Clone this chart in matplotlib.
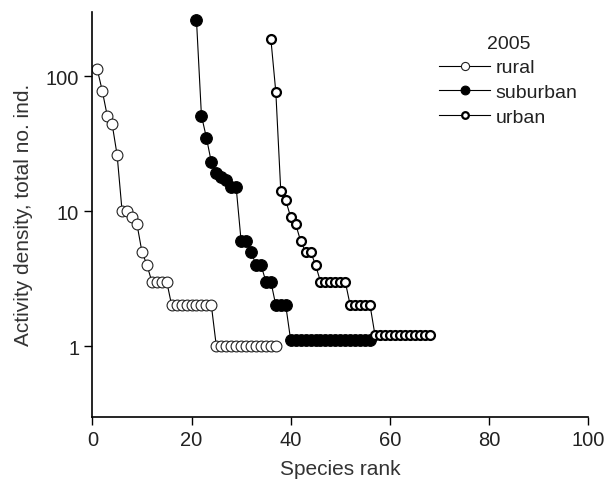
import matplotlib
matplotlib.use("Agg")
import matplotlib.pyplot as plt

plt.rcParams['font.family'] = ['Liberation Sans', 'DejaVu Sans']

# species rank vs activity density, 2005
rural_rank = list(range(1, 38))
rural = [112, 78, 51, 44, 26, 10, 10, 9, 8, 5, 4,
         3, 3, 3, 3,
         2, 2, 2, 2, 2, 2, 2, 2, 2,
         1, 1, 1, 1, 1, 1, 1, 1, 1, 1, 1, 1, 1]

suburban_rank = list(range(21, 57))
suburban = [260, 51, 35, 23, 19, 18, 17, 15, 15,
            6, 6, 5, 4, 4, 3, 3, 2, 2, 2,
            1.1, 1.1, 1.1, 1.1, 1.1, 1.1, 1.1, 1.1, 1.1,
            1.1, 1.1, 1.1, 1.1, 1.1, 1.1, 1.1, 1.1]

urban_rank = list(range(36, 69))
urban = [188, 76, 14, 12, 9, 8, 6, 5, 5, 4,
         3, 3, 3, 3, 3, 3,
         2, 2, 2, 2, 2,
         1.2, 1.2, 1.2, 1.2, 1.2, 1.2, 1.2, 1.2, 1.2, 1.2, 1.2, 1.2]

xticks = [0, 20, 40, 60, 80, 100]
yticks = [1, 10, 100]

fig = plt.figure(figsize=(6.09, 4.89), dpi=100)
ax = fig.add_axes([0.1516, 0.146, 0.8144, 0.828])

ax.plot(rural_rank, rural, '-o', color='black', lw=0.8, ms=7.8,
        mfc='white', mec='#222222', mew=0.8, label='rural')
ax.plot(suburban_rank, suburban, '-o', color='black', lw=0.8, ms=8.4,
        mfc='black', mec='black', mew=0.8, label='suburban')
ax.plot(urban_rank, urban, '-o', color='black', lw=0.8, ms=6.4,
        mfc='white', mec='black', mew=1.6, label='urban')

ax.set_yscale('log')
ax.set_xlim(0, 100)
ax.set_ylim(0.3, 300)
ax.set_xticks(xticks)
ax.set_yticks(yticks)
ax.set_yticklabels([str(v) for v in yticks])
ax.minorticks_off()
ax.tick_params(labelsize=14.5, length=6, width=1, direction='out', labelcolor='#222222')

ax.spines['top'].set_visible(False)
ax.spines['right'].set_visible(False)
ax.spines['left'].set_linewidth(1.2)
ax.spines['bottom'].set_linewidth(1.2)

ax.set_xlabel("Species rank", fontsize=15, color='#333333', labelpad=7)
ax.set_ylabel("Activity density, total no. ind.", fontsize=15, color='#333333', labelpad=9)

leg = ax.legend(title='2005', loc='upper left', bbox_to_anchor=(0.68, 0.967),
                frameon=False, fontsize=14, title_fontsize=14,
                handlelength=2.6, handletextpad=0.3, labelspacing=0.36,
                borderpad=0, markerscale=0.75)
leg.get_title().set_color('#222222')
for t in leg.get_texts():
    t.set_color('#222222')

fig.savefig('out.png', dpi=100)
